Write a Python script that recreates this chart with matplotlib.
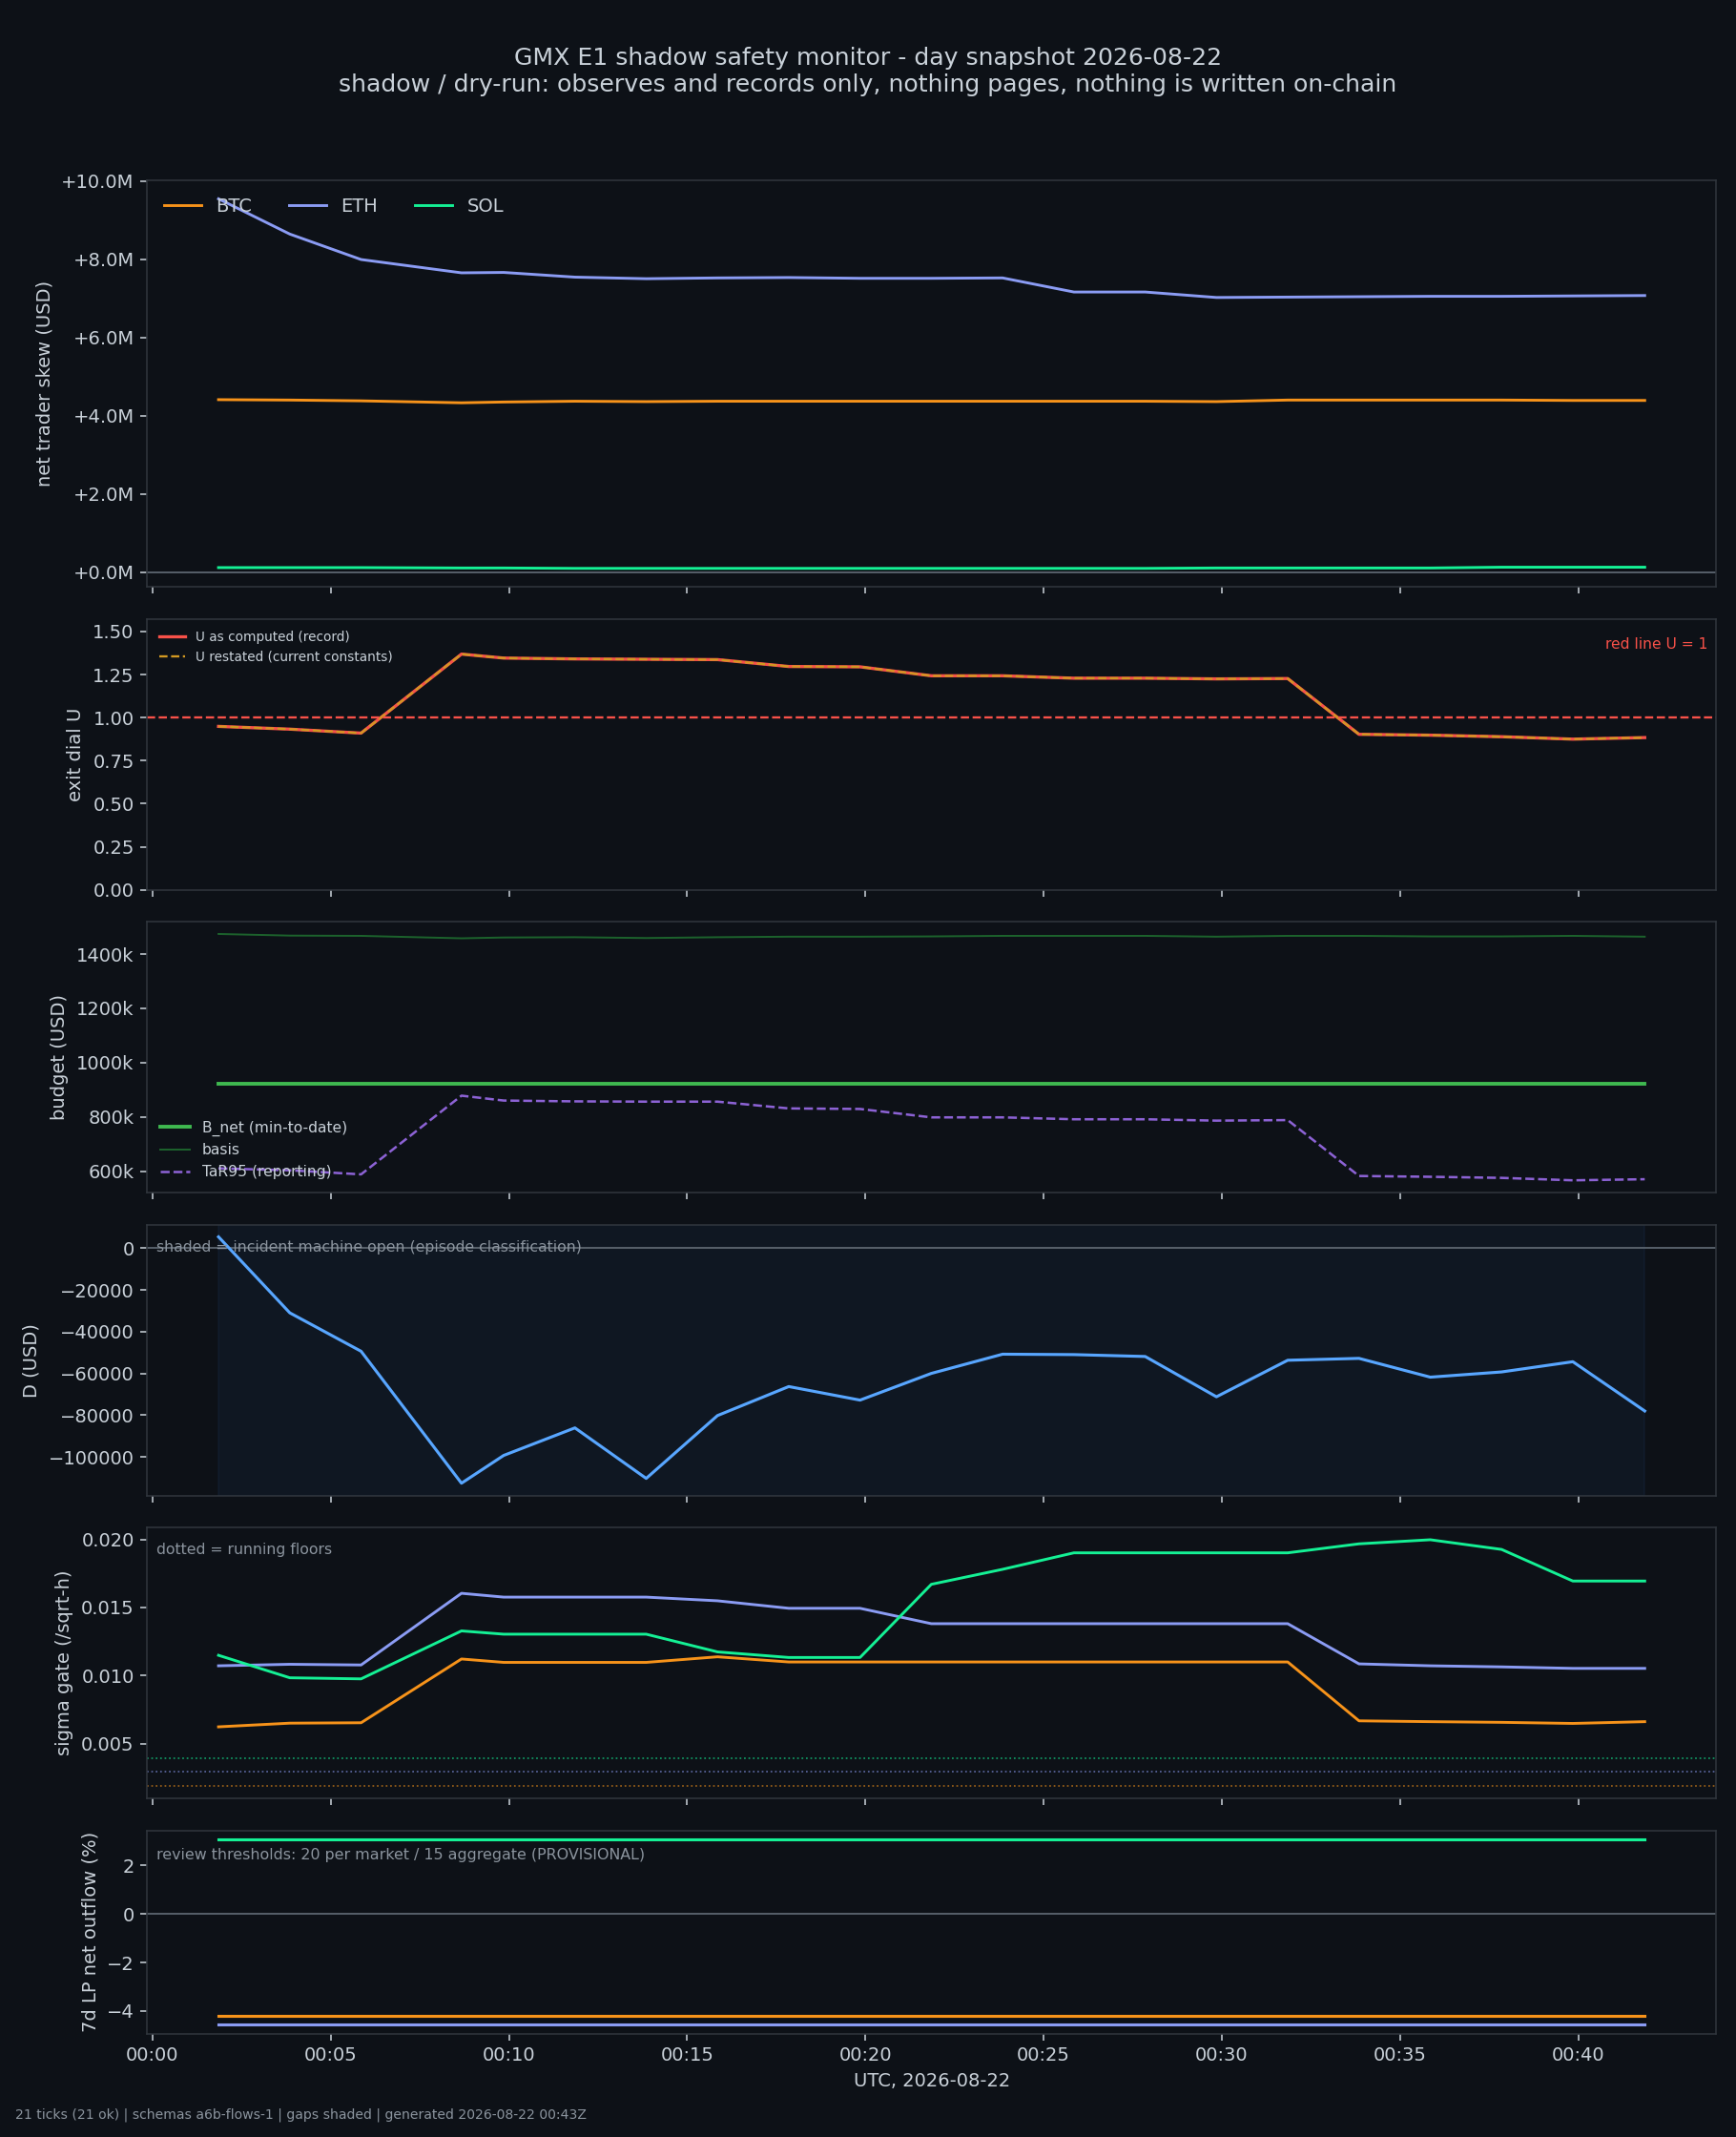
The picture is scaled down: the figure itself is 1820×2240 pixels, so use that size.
import pandas as pd
import matplotlib
matplotlib.use("Agg")
import matplotlib.pyplot as plt
import matplotlib.dates as mdates
from matplotlib.ticker import FuncFormatter

# 21 snapshot ticks (UTC, 2026-08-22)
tick_times = ["00:01:51", "00:03:51", "00:05:51", "00:08:40", "00:09:51", "00:11:51",
              "00:13:51", "00:15:51", "00:17:51", "00:19:51", "00:21:51", "00:23:51",
              "00:25:51", "00:27:51", "00:29:51", "00:31:51", "00:33:51", "00:35:51",
              "00:37:51", "00:39:51", "00:41:52"]
markets = ["BTC", "ETH", "SOL"]

# net trader skew, millions USD
skew_btc = [4.41, 4.40, 4.38, 4.33, 4.35, 4.37, 4.36, 4.37, 4.37, 4.37, 4.37,
            4.37, 4.37, 4.37, 4.36, 4.40, 4.40, 4.40, 4.40, 4.39, 4.39]
skew_eth = [9.54, 8.64, 7.99, 7.65, 7.66, 7.54, 7.50, 7.52, 7.53, 7.51, 7.51,
            7.52, 7.16, 7.16, 7.02, 7.03, 7.04, 7.05, 7.05, 7.06, 7.07]
skew_sol = [0.12, 0.12, 0.12, 0.11, 0.11, 0.10, 0.10, 0.10, 0.10, 0.10, 0.10,
            0.10, 0.10, 0.10, 0.11, 0.11, 0.11, 0.11, 0.13, 0.13, 0.13]

# exit dial U
u_record = [0.949, 0.933, 0.910, 1.369, 1.346, 1.341, 1.339, 1.337, 1.297, 1.295, 1.243,
            1.243, 1.229, 1.229, 1.225, 1.227, 0.903, 0.898, 0.889, 0.875, 0.884]
u_restated = [0.949, 0.933, 0.910, 1.369, 1.346, 1.341, 1.339, 1.337, 1.297, 1.295, 1.243,
              1.243, 1.229, 1.229, 1.225, 1.227, 0.903, 0.898, 0.889, 0.875, 0.884]

# budget, thousands USD
b_net = [921] * 21
basis = [1474, 1468, 1467, 1458, 1461, 1462, 1459, 1462, 1464, 1464, 1465,
         1467, 1467, 1467, 1464, 1467, 1467, 1465, 1465, 1467, 1464]
tar95 = [610, 603, 588, 878, 860, 857, 856, 856, 831, 829, 798,
         798, 791, 791, 786, 788, 582, 579, 575, 566, 570]

# D (USD)
d_usd = [5400, -31000, -49400, -112600, -99300, -86100, -110300, -80200, -66300, -72800, -60000,
         -50800, -51000, -51900, -71200, -53700, -52800, -61800, -59300, -54400, -78000]

# sigma gate (/sqrt-h) and running floors
sig_btc = [0.00624, 0.00651, 0.00654, 0.01122, 0.01097, 0.01097, 0.01097, 0.01138, 0.01100, 0.01100, 0.01100,
           0.01100, 0.01100, 0.01100, 0.01100, 0.01100, 0.00668, 0.00662, 0.00657, 0.00649, 0.00662]
sig_eth = [0.01072, 0.01083, 0.01078, 0.01604, 0.01576, 0.01576, 0.01576, 0.01549, 0.01494, 0.01494, 0.01381,
           0.01381, 0.01381, 0.01381, 0.01381, 0.01381, 0.01086, 0.01072, 0.01064, 0.01053, 0.01053]
sig_sol = [0.01149, 0.00984, 0.00976, 0.01328, 0.01304, 0.01304, 0.01304, 0.01174, 0.01133, 0.01133, 0.01670,
           0.01780, 0.01901, 0.01901, 0.01901, 0.01901, 0.01967, 0.01997, 0.01926, 0.01694, 0.01694]
sig_floor = [0.00189, 0.00294, 0.00393]  # BTC, ETH, SOL

# 7d LP net outflow (%)
lp_btc = [-4.20] * 21
lp_eth = [-4.55] * 21
lp_sol = [3.06] * 21

BG = "#0d1117"
FG = "#c9d1d9"
MUTED = "#8b949e"
colors = {"BTC": "#f7931a", "ETH": "#8b9cf4", "SOL": "#14f195"}

plt.rcParams.update({
    "figure.facecolor": BG,
    "axes.facecolor": BG,
    "axes.edgecolor": "#30363d",
    "axes.labelcolor": FG,
    "xtick.color": FG,
    "ytick.color": FG,
    "text.color": FG,
    "font.size": 10,
    "legend.frameon": False,
})

t = pd.to_datetime(["2026-08-22 " + s for s in tick_times])


def pad_limits(values, frac=0.05):
    lo, hi = min(values), max(values)
    p = frac * (hi - lo)
    return lo - p, hi + p


fig, axes = plt.subplots(6, 1, figsize=(13, 16), dpi=140, sharex=True,
                         gridspec_kw={"height_ratios": [3, 2, 2, 2, 2, 1.5]})
fig.subplots_adjust(left=0.0848, right=0.9885, top=0.9156, bottom=0.0484, hspace=0.113)
ax1, ax2, ax3, ax4, ax5, ax6 = axes

fig.suptitle("GMX E1 shadow safety monitor - day snapshot 2026-08-22\n"
             "shadow / dry-run: observes and records only, nothing pages, nothing is written on-chain",
             fontsize=12.9, color=FG, y=0.978)

# panel 1: skew
ax1.axhline(0, color="#57606a", lw=1)
for m, vals in zip(markets, [skew_btc, skew_eth, skew_sol]):
    ax1.plot(t, [v * 1e6 for v in vals], color=colors[m], lw=1.5, label=m)
lo, hi = pad_limits([v * 1e6 for v in skew_btc + skew_eth + skew_sol])
ax1.set_ylim(lo, hi)
ax1.yaxis.set_major_formatter(FuncFormatter(lambda v, p: f"{v / 1e6:+.1f}M"))
ax1.set_ylabel("net trader skew (USD)")
ax1.legend(loc="upper left", ncol=3, fontsize=10)

# panel 2: exit dial
ax2.plot(t, u_record, color="#f85149", lw=1.7, label="U as computed (record)")
ax2.plot(t, u_restated, color="#d29922", lw=1.2, ls="--", label="U restated (current constants)")
ax2.axhline(1.0, color="#f85149", lw=1.2, ls="--")
ax2.set_ylim(0, max(u_record) * 1.15)
ax2.text(0.995, 0.905, "red line U = 1", transform=ax2.transAxes, ha="right", va="center",
         fontsize=8, color="#f85149")
ax2.set_ylabel("exit dial U")
ax2.legend(loc="upper left", fontsize=7)

# panel 3: budget
ax3.plot(t, [v * 1e3 for v in b_net], color="#3fb950", lw=2.0, label="B_net (min-to-date)")
ax3.plot(t, [v * 1e3 for v in basis], color="#238636", alpha=0.7, lw=1, label="basis")
ax3.plot(t, [v * 1e3 for v in tar95], color="#a371f7", alpha=0.85, lw=1.3, ls="--", label="TaR95 (reporting)")
ax3.yaxis.set_major_formatter(FuncFormatter(lambda v, p: f"{v / 1e3:.0f}k"))
ax3.set_ylabel("budget (USD)")
ax3.legend(loc="lower left", fontsize=8)

# panel 4: D
ax4.axvspan(t[0], t[-1], color="#388bfd", alpha=0.05)
ax4.axhline(0, color="#57606a", lw=1)
ax4.plot(t, d_usd, color="#58a6ff", lw=1.6)
ax4.text(0.006, 0.916, "shaded = incident machine open (episode classification)",
         transform=ax4.transAxes, ha="left", va="center", fontsize=8.1, color=MUTED)
ax4.set_ylabel("D (USD)")

# panel 5: sigma gate
for m, vals, fl in zip(markets, [sig_btc, sig_eth, sig_sol], sig_floor):
    ax5.plot(t, vals, color=colors[m], lw=1.5)
    ax5.axhline(fl, color=colors[m], lw=0.9, ls=":", alpha=0.6)
ax5.set_ylim(*pad_limits(sig_btc + sig_eth + sig_sol + sig_floor))
ax5.text(0.006, 0.916, "dotted = running floors", transform=ax5.transAxes,
         ha="left", va="center", fontsize=8.1, color=MUTED)
ax5.set_ylabel("sigma gate (/sqrt-h)")

# panel 6: LP outflow
ax6.axhline(0, color="#57606a", lw=1)
for m, vals in zip(markets, [lp_btc, lp_eth, lp_sol]):
    ax6.plot(t, vals, color=colors[m], lw=1.6)
ax6.text(0.006, 0.876, "review thresholds: 20 per market / 15 aggregate (PROVISIONAL)",
         transform=ax6.transAxes, ha="left", va="center", fontsize=8.2, color=MUTED)
ax6.set_ylabel("7d LP net outflow (%)")

ax6.xaxis.set_major_locator(mdates.MinuteLocator(byminute=range(0, 60, 5)))
ax6.xaxis.set_major_formatter(mdates.DateFormatter("%H:%M"))
ax6.set_xlabel("UTC, 2026-08-22")

fig.text(0.009, 0.007, "21 ticks (21 ok) | schemas a6b-flows-1 | gaps shaded | generated 2026-08-22 00:43Z",
         fontsize=7.2, color=MUTED, ha="left", va="bottom")

fig.savefig("out.png", dpi=140, facecolor=BG)
